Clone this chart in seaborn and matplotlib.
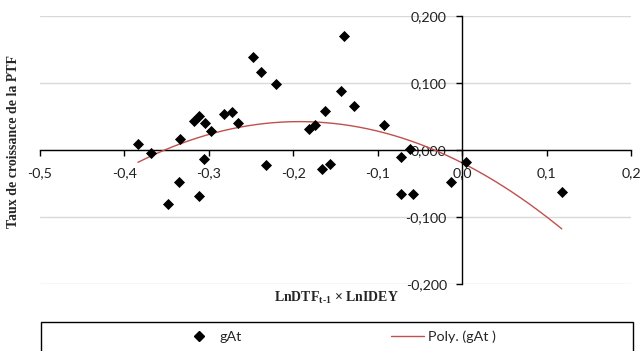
import numpy as np
import pandas as pd
import matplotlib
matplotlib.use("Agg")
import matplotlib.pyplot as plt
import seaborn as sns
from matplotlib.patches import Rectangle
from matplotlib.lines import Line2D

# ---- data ----
x_vals = [-0.384, -0.368, -0.334, -0.335, -0.348, -0.318, -0.312, -0.304, -0.306, -0.312,
          -0.298, -0.282, -0.272, -0.265, -0.248, -0.238, -0.232, -0.220, -0.181, -0.174,
          -0.166, -0.163, -0.156, -0.143, -0.140, -0.128, -0.092, -0.073, -0.072, -0.058,
          -0.062, -0.013, 0.005, 0.118]
y_vals = [0.009, -0.004, 0.016, -0.048, -0.080, 0.043, 0.050, 0.040, -0.014, -0.069,
          0.028, 0.054, 0.057, 0.040, 0.138, 0.116, -0.022, 0.098, 0.031, 0.037,
          -0.029, 0.058, -0.021, 0.088, 0.170, 0.065, 0.037, -0.010, -0.066, -0.066,
          0.001, -0.047, -0.018, -0.063]
x_ticks = [-0.5, -0.4, -0.3, -0.2, -0.1, 0.0, 0.1, 0.2]
y_ticks = [-0.2, -0.1, 0.0, 0.1, 0.2]
x_ticklabels = ["-0,5", "-0,4", "-0,3", "-0,2", "-0,1", "0,0", "0,1", "0,2"]
y_ticklabels = ["-0,200", "-0,100", "0,000", "0,100", "0,200"]
series_name = "gAt"
trend_name = "Poly. (gAt )"

df = pd.DataFrame({"x": x_vals, "y": y_vals})

# 2nd order polynomial trend, like Excel
coef = np.polyfit(df["x"], df["y"], 2)
xs = np.linspace(min(x_vals), max(x_vals), 200)
trend = pd.DataFrame({"x": xs, "y": np.polyval(coef, xs)})

sns.set_theme(style="white")
plt.rcParams["font.family"] = ["Lato", "DejaVu Sans"]
plt.rcParams["mathtext.fontset"] = "custom"
plt.rcParams["mathtext.rm"] = "Liberation Serif:bold"
plt.rcParams["mathtext.bf"] = "Liberation Serif:bold"

W, H = 643, 351
fig = plt.figure(figsize=(W / 100, H / 100), dpi=100)
fig.patch.set_facecolor("white")
l, r, t, b = 40, 631, 15.7, 284.3
ax = fig.add_axes([l / W, 1 - b / H, (r - l) / W, (b - t) / H])
ax.set_facecolor("white")

for y in y_ticks:
    ax.axhline(y, color="#d9d9d9", lw=1.0, zorder=0)

sns.lineplot(data=trend, x="x", y="y", ax=ax, color="#C0504D", lw=1.0, zorder=3)
sns.scatterplot(data=df, x="x", y="y", ax=ax, marker="D", s=32, color="black",
                edgecolor="black", linewidth=0, zorder=4)

ax.set_xlim(-0.5, 0.2)
ax.set_ylim(-0.2, 0.2)
ax.set_xticks(x_ticks)
ax.set_xticklabels(x_ticklabels)
ax.set_yticks(y_ticks)
ax.set_yticklabels(y_ticklabels)
ax.spines["left"].set_position(("data", 0))
ax.spines["bottom"].set_position(("data", 0))
for s in ["top", "right"]:
    ax.spines[s].set_visible(False)
for s in ["left", "bottom"]:
    ax.spines[s].set_color("#000000")
    ax.spines[s].set_linewidth(1.0)
ax.tick_params(axis="both", direction="out", length=4, width=1, color="#000000",
               labelsize=10.3, labelcolor="#222222")
ax.tick_params(axis="x", pad=8, bottom=True)
ax.tick_params(axis="y", pad=7, left=True)
ax.set_xlabel("")
ax.set_ylabel("")

fig.text(14 / W, 1 - 141 / H, "Taux de croissance de la PTF", rotation=90,
         ha="center", va="center", family="Liberation Serif", weight="bold", fontsize=10)
fig.text(336 / W, 1 - 298 / H, r"LnDTF$_{\mathrm{t\text{-}1}}$ × LnIDEY",
         ha="center", va="center", family="Liberation Serif", weight="bold", fontsize=10)

# legend frame
fig.patches.append(Rectangle((40.5 / W, 0 - 0.05), (632.5 - 40.5) / W, (H - 321.7) / H + 0.05,
                             transform=fig.transFigure, fill=False, edgecolor="black", lw=1.0))
handles = [Line2D([], [], marker="D", color="black", ls="none", markersize=4.8),
           Line2D([], [], color="#C0504D", lw=1.0)]
fig.legend(handles, [series_name, trend_name], loc="center", ncol=2,
           bbox_to_anchor=(339.5 / W, 1 - 337 / H), frameon=False, fontsize=10.3,
           handlelength=2.3, handletextpad=0.3, columnspacing=10.4, borderpad=0)

fig.savefig("out.png", dpi=100, facecolor="white")
